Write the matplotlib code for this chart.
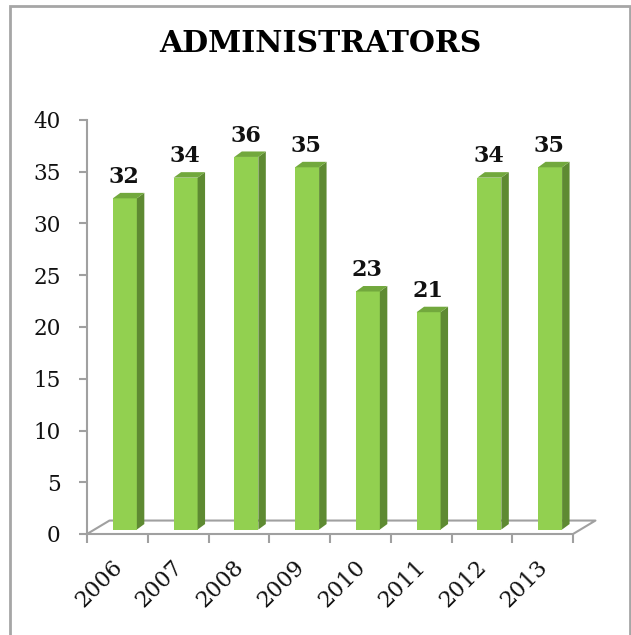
import matplotlib
matplotlib.use("Agg")
import matplotlib.pyplot as plt
from matplotlib.patches import Polygon, Rectangle

years = ["2006", "2007", "2008", "2009", "2010", "2011", "2012", "2013"]
values = [32, 34, 36, 35, 23, 21, 34, 35]
yticks = [0, 5, 10, 15, 20, 25, 30, 35, 40]
title = "ADMINISTRATORS"

plt.rcParams['font.family'] = ['DejaVu Serif']

W, H = 631, 635
fig = plt.figure(figsize=(W / 100, H / 100), dpi=100)
ax = fig.add_axes([87 / W, (H - 534) / H, (573 - 87) / W, (534 - 120) / H])
ax.set_xlim(-0.5, len(years) - 0.5)
ax.set_ylim(0, 40)

front_c = "#92D050"
side_c = "#5E8A32"
top_c = "#72A83D"
grey = "#A0A0A0"

# depth of bars in data units
ddx, ddy = 0.123, 0.53
lift = 0.43
bw = 0.395
off = 0.123

# floor
fdx, fdy = 0.37, 1.3
x0, x1 = -0.5, len(years) - 0.5
ax.plot([x0, x1, x1 + fdx, x0 + fdx, x0], [0, 0, fdy, fdy, 0], color=grey,
        lw=1.5, clip_on=False, zorder=1)

for i, v in enumerate(values):
    xl = i + off - bw / 2
    xr = i + off + bw / 2
    yb = lift
    yt = v + lift
    ax.add_patch(Rectangle((xl, yb), bw, v, facecolor=front_c, edgecolor='none',
                           clip_on=False, zorder=3))
    ax.add_patch(Polygon([(xr, yb), (xr + ddx, yb + ddy), (xr + ddx, yt + ddy), (xr, yt)],
                         closed=True, facecolor=side_c, edgecolor='none', clip_on=False, zorder=3))
    ax.add_patch(Polygon([(xl, yt), (xr, yt), (xr + ddx, yt + ddy), (xl + ddx, yt + ddy)],
                         closed=True, facecolor=top_c, edgecolor='none', clip_on=False, zorder=3))
    ax.annotate(str(v), (i + 0.11, yt + ddy), xytext=(0, 3.5), textcoords='offset points',
                ha='center', va='bottom', fontsize=16, fontweight='bold', color='#111111',
                annotation_clip=False, zorder=4)
    ax.annotate(years[i], (i, 0), xytext=(-4.5, -15.5), textcoords='offset points',
                ha='right', va='top', rotation=45, rotation_mode='anchor',
                fontsize=16, color='#111111', annotation_clip=False)

# axes styling
for s in ['top', 'right', 'bottom']:
    ax.spines[s].set_visible(False)
ax.spines['left'].set_color(grey)
ax.spines['left'].set_linewidth(1.5)
ax.set_yticks(yticks)
ax.tick_params(axis='y', length=6, width=1.5, color=grey, pad=13, labelsize=15.5,
               labelcolor='#111111')

ax.set_xticks([i - 0.5 for i in range(len(years) + 1)])
ax.set_xticklabels([])
ax.tick_params(axis='x', which='major', length=6.5, width=1.5, color=grey)
ax.patch.set_visible(False)

fig.text(320 / W, 1 - 44 / H, title, ha='center', va='center', fontsize=21.5,
         fontweight='bold', color='#000000')

# chart border
fig.patches.append(Rectangle((10 / W, -0.05), (630 - 10) / W, 1.05 - 6 / H, transform=fig.transFigure,
                             facecolor='none', edgecolor='#A6A6A6', lw=2))

fig.savefig("out.png", dpi=100)
